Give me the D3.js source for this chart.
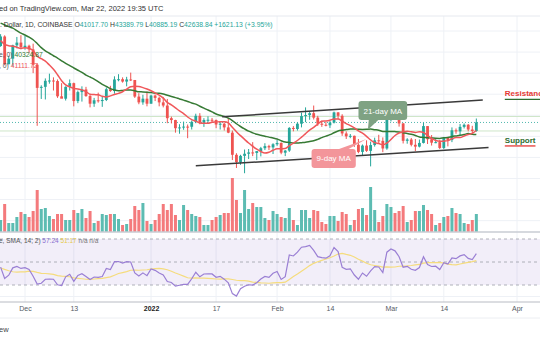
<!DOCTYPE html>
<html><head><meta charset="utf-8">
<script src="https://cdn.jsdelivr.net/npm/d3@7"></script>
<style>body{margin:0;background:#fff;overflow:hidden}svg{display:block;font-family:"Liberation Sans",Arial,sans-serif}</style>
</head><body><svg id="c" width="540" height="340"></svg>
<script>
// ---------- DATA ----------
const firstDay = "2021-11-25";
const opens  = [57150,58960,53700,54750,57280,57800,56950,57200,56500,53600,49200,49400,50550,50600,50500,47600,47150,49400,50100,46700,48400,48900,47650,46200,46850,46700,46900,48950,48600,50800,50850,50400,50800,50700,47550,46450,47150,46200,47750,47300,46450,45850,43450,43100,41550,41700,41850,41820,42750,43900,42600,43100,43150,43100,42250,42400,41700,40700,36500,35100,36300,36700,36950,36850,37200,37750,38150,37900,38500,38750,36900,37300,41600,41400,42400,43850,44050,44400,43550,42400,42200,42100,42600,44550,43900,40550,40000,40100,38400,37050,38250,37250,38350,39250,39150,37700,43200,44400,43950,42450,39150,39400,38400,38050,38750,41950,39450,38800,38900,37800,39700,39300,41150,40950,41800,42200,41300,41017.70];
const highs  = [59400,59180,55300,57400,58870,59200,59050,57400,57600,53900,49700,51000,51900,51200,50800,50100,49500,50800,50200,48700,49500,49400,48000,47300,48300,47500,49300,49600,51400,51800,51200,51300,52100,50700,48200,47900,48500,47900,47950,47550,47500,47100,43750,43150,42300,42800,42250,43000,44300,44400,43450,43800,43500,43200,42700,42600,43500,41100,36800,36500,37500,37600,38900,37200,38000,38700,38400,38700,39300,38850,37400,41750,41950,42650,44500,45500,44800,45850,43900,43000,42750,42900,44700,44600,44200,40950,40450,40150,39500,38450,39250,39000,39750,40300,39800,44200,44950,45400,44100,42550,39650,39700,39500,39400,42600,41950,40250,39500,39300,39900,39900,41700,41500,42350,42450,42350,42000,43389.79];
const lows   = [57000,53500,53650,53300,56700,56500,56450,55800,52000,42000,47100,47000,50000,48700,47300,47300,46800,48700,45700,46300,46600,47500,45500,45600,46400,45600,46700,48450,48100,50450,50200,49500,50500,47300,46100,46000,45700,46200,46700,45700,45500,42500,42450,40700,40500,41250,39650,41300,42500,42300,41800,42600,42600,41550,41300,41100,40600,35500,34000,34600,33000,35700,36250,35500,36200,37400,37400,36650,38200,36600,36250,37050,40950,41100,41700,42700,43150,43200,42000,41800,41900,41600,42450,43300,40100,39500,39650,38000,36800,36400,37050,34300,38050,38600,37000,37450,42850,43350,41850,38650,38600,38100,37200,37900,38650,38550,38250,38700,37600,37600,38100,38900,40500,40250,41500,40950,40500,40885.19];
const closes = [58960,53700,54750,57280,57800,56950,57200,56500,53600,49200,49400,50550,50600,50500,47600,47150,49400,50100,46700,48400,48900,47650,46200,46850,46700,46900,48950,48600,50800,50850,50400,50800,50700,47550,46450,47150,46200,47750,47300,46450,45850,43450,43100,41550,41700,41850,41820,42750,43900,42600,43100,43150,43100,42250,42400,41700,40700,36500,35100,36300,36700,36950,36850,37200,37750,38150,37900,38500,38750,36900,37300,41600,41400,42400,43850,44050,44400,43550,42400,42200,42100,42600,44550,43900,40550,40000,40100,38400,37050,38250,37250,38350,39250,39150,37700,43200,44400,43950,42450,39150,39400,38400,38050,38750,41950,39450,38800,38900,37800,39700,39300,41150,40950,41800,42200,41300,41017.70,42638.84];
// volume (thousands of BTC)
const volumes = [12,28,9,9,15,20,18,15,21,42,23,24,16,13,18,18,12,12,22,19,23,14,21,9,11,18,17,18,18,13,7,8,13,26,22,29,11,8,12,18,28,22,28,17,12,27,22,18,16,15,7,7,12,15,17,19,19,54,32,19,42,23,29,25,25,14,12,21,18,15,14,24,12,7,22,22,14,22,21,10,8,16,16,11,20,18,7,12,23,24,17,45,22,10,16,28,25,19,21,26,10,12,21,21,27,22,18,7,9,15,16,24,19,18,9,8,12,18];
// closes before the first visible candle (Oct 15 – Nov 24, 2021), for indicator warm-up
const priorCloses = [61500,60850,61500,62000,64250,65950,62200,60700,61300,60850,63050,60300,58450,60600,62250,61850,61300,61000,63200,62950,61400,61000,61500,63300,67550,66950,64900,64800,64150,64400,65500,63600,60100,60350,56900,58100,59700,58700,56300,57550,57150];
// values printed in the legends
const legendChange = ["+1621.13", "+3.95%"];
const legendMA = [40324.87, 41111.72];      // 21-day, 9-day
const legendRSI = [57.24, 51.17];            // RSI, RSI-based MA
const tickDates  = ["2021-12-01","2021-12-13","2022-01-01","2022-01-17","2022-02-01","2022-02-14","2022-03-01","2022-03-14","2022-04-01"];
const tickLabels = ["Dec","13","2022","17","Feb","14","Mar","14","Apr"];
const priceTicks = [24000,28000,32000,36000,40000,44000,48000,52000,56000,60000];
const rsiLevels  = [70,50,30];
const levelLines = [43770,41020];
const channelUpper = [["2022-01-18T12:00",43700],["2022-03-23T14:00",46900]];
const channelLower = [["2022-01-12T00:00",34400],["2022-03-25T00:00",37900]];
const srLabels = [{text:"Resistance",date:"2022-03-29T00:00",price:47600,color:"#e53935",line:"#2e6b2e"},
                  {text:"Support",date:"2022-03-29T00:00",price:38750,color:"#2e6b2e",line:"#e53935"}];
const callouts = [{text:"21-day MA",date:"2022-02-27T00:00",price:44900,fill:"#7fa283",tip:["2022-02-23T08:00",41250],side:"bottom"},
                  {text:"9-day MA",date:"2022-02-14T22:00",price:35800,fill:"#f3959a",tip:["2022-02-23T00:00",39500],side:"top"}];

// ---------- SETUP ----------
const svg = d3.select("#c");
const W = 540;
const parse = d3.utcParse("%Y-%m-%d"), parseT = d3.utcParse("%Y-%m-%dT%H:%M");
const start = parse(firstDay);
const days = d3.utcDay.range(start, d3.utcDay.offset(start, closes.length));
const x = d3.scaleUtc().domain([parse("2021-12-01"), parse("2022-04-01")]).range([25, 517]);
const y = d3.scaleLinear().domain([32000, 60000]).range([178.5, 31]);
const yv = d3.scaleLinear().domain([0, 100]).range([232, 132]);
const yr = d3.scaleLinear().domain([30, 70]).range([285, 239]);
const UP = "#26a69a", DN = "#ef5350";

// indicators
const all = priorCloses.concat(closes), P = priorCloses.length;
function sma(arr, n, i){ if(i < n-1) return null; let s=0; for(let k=i-n+1;k<=i;k++){ if(arr[k]==null) return null; s+=arr[k]; } return s/n; }
const ma9 = closes.map((c,i)=>sma(all,9,i+P));
const ma21 = closes.map((c,i)=>sma(all,21,i+P));
const rsiAll = new Array(all.length).fill(null);
let au=0, ad=0;
for(let i=1;i<all.length;i++){
  const ch = all[i]-all[i-1], u=Math.max(ch,0), d=Math.max(-ch,0);
  if(i<=14){ au+=u/14; ad+=d/14; if(i===14) rsiAll[i]=100-100/(1+au/ad); }
  else { au=(au*13+u)/14; ad=(ad*13+d)/14; rsiAll[i]=100-100/(1+au/ad); }
}
const rsi = closes.map((c,i)=>rsiAll[i+P]);
const rsiMa = closes.map((c,i)=>sma(rsiAll,14,i+P));

// ---------- GRID ----------
const g0 = svg.append("g");
g0.selectAll("line.v").data(tickDates.map(parse)).join("line").attr("class","v")
  .attr("x1",d=>x(d)).attr("x2",d=>x(d)).attr("y1",16).attr("y2",302).attr("stroke","#eef1f6");
g0.selectAll("line.h").data(priceTicks).join("line").attr("class","h")
  .attr("x1",0).attr("x2",W).attr("y1",d=>y(d)).attr("y2",d=>y(d)).attr("stroke","#eef1f6");
g0.append("line").attr("x1",0).attr("x2",W).attr("y1",16).attr("y2",16).attr("stroke","#e6e9ef");
g0.append("line").attr("x1",0).attr("x2",W).attr("y1",yr(20)).attr("y2",yr(20)).attr("stroke","#eef1f6");

// level lines
g0.selectAll("line.lv").data(levelLines).join("line").attr("class","lv")
  .attr("x1",0).attr("x2",W).attr("y1",d=>y(d)).attr("y2",d=>y(d)).attr("stroke","#cfe6c9").attr("stroke-width",1);

// clip for main pane
svg.append("clipPath").attr("id","mp").append("rect").attr("x",0).attr("y",16).attr("width",W).attr("height",216);
const main = svg.append("g").attr("clip-path","url(#mp)");

// volume
main.append("g").selectAll("rect").data(days).join("rect")
  .attr("x",(d)=>x(d)-1.5).attr("width",3)
  .attr("y",(d,i)=>yv(volumes[i])).attr("height",(d,i)=>yv(0)-yv(volumes[i]))
  .attr("fill",(d,i)=>closes[i]>=opens[i]?"#5dbcb2":"#f47a7c");

// price line (last close)
main.append("line").attr("x1",0).attr("x2",W).attr("y1",y(closes[closes.length-1])).attr("y2",y(closes[closes.length-1]))
  .attr("stroke",UP).attr("stroke-dasharray","1,2").attr("stroke-width",0.8);

// candles
const cg = main.append("g");
cg.selectAll("line").data(days).join("line")
  .attr("x1",d=>x(d)).attr("x2",d=>x(d))
  .attr("y1",(d,i)=>y(highs[i])).attr("y2",(d,i)=>y(lows[i]))
  .attr("stroke",(d,i)=>closes[i]>=opens[i]?UP:DN).attr("stroke-width",1);
cg.selectAll("rect").data(days).join("rect")
  .attr("x",d=>x(d)-1.4).attr("width",2.8)
  .attr("y",(d,i)=>y(Math.max(opens[i],closes[i])))
  .attr("height",(d,i)=>Math.max(1,Math.abs(y(opens[i])-y(closes[i]))))
  .attr("fill",(d,i)=>closes[i]>=opens[i]?UP:DN);

// moving averages
const lineMA = arr => d3.line().defined((d,i)=>arr[i]!=null).x(d=>x(d)).y((d,i)=>y(arr[i])).curve(d3.curveMonotoneX);
main.append("path").datum(days).attr("d",lineMA(ma21)).attr("fill","none").attr("stroke","#367a34").attr("stroke-width",1.5);
main.append("path").datum(days).attr("d",lineMA(ma9)).attr("fill","none").attr("stroke","#f0575a").attr("stroke-width",1.5);

// channel
[channelUpper, channelLower].forEach(c=>{
  main.append("line").attr("x1",x(parseT(c[0][0]))).attr("y1",y(c[0][1]))
    .attr("x2",x(parseT(c[1][0]))).attr("y2",y(c[1][1])).attr("stroke","#3a3a3a").attr("stroke-width",1.5);
});

// callouts
callouts.forEach(c=>{
  const cx = x(parseT(c.date)), cy = y(c.price);
  const t = main.append("text").attr("x",cx).attr("y",cy+3).attr("text-anchor","middle")
    .attr("font-size",8).attr("fill","#ffffff").text(c.text);
  const bw = t.node().getComputedTextLength()+10, bh = 19;
  const tx = x(parseT(c.tip[0])), ty = y(c.tip[1]);
  const g = main.insert("g", () => t.node());
  g.append("rect").attr("x",cx-bw/2).attr("y",cy-bh/2).attr("width",bw).attr("height",bh).attr("rx",3).attr("fill",c.fill);
  const by = c.side==="bottom" ? cy+bh/2-0.5 : cy-bh/2+0.5;
  const bx = c.side==="bottom" ? cx-9 : cx+9;
  g.append("path").attr("d",`M${bx-5},${by}L${tx},${ty}L${bx+5},${by}Z`).attr("fill",c.fill);
});

// support / resistance labels
srLabels.forEach(s=>{
  const sx = x(parseT(s.date)), sy = y(s.price);
  const t = svg.append("text").attr("x",sx).attr("y",sy).attr("font-size",8).attr("font-weight","bold").attr("fill",s.color).text(s.text);
  const w = t.node().getComputedTextLength();
  svg.append("line").attr("x1",sx).attr("x2",sx+w).attr("y1",sy+3).attr("y2",sy+3).attr("stroke",s.line).attr("stroke-width",1.3);
});

// ---------- RSI PANE ----------
svg.append("rect").attr("x",0).attr("width",W).attr("y",yr(70)).attr("height",yr(30)-yr(70)).attr("fill","#7e57c2").attr("fill-opacity",0.1);
svg.selectAll("line.rl").data(rsiLevels).join("line").attr("class","rl")
  .attr("x1",0).attr("x2",W).attr("y1",d=>yr(d)).attr("y2",d=>yr(d)).attr("stroke","#9da0a8").attr("stroke-dasharray","3,3").attr("stroke-width",0.8);
svg.append("line").attr("x1",0).attr("x2",W).attr("y1",232).attr("y2",232).attr("stroke","#c9ccd3").attr("stroke-width",1.5);
svg.append("clipPath").attr("id","rp").append("rect").attr("x",0).attr("y",233).attr("width",W).attr("height",69);
const rp = svg.append("g").attr("clip-path","url(#rp)");
rp.append("path").datum(days).attr("d",d3.line().defined((d,i)=>rsiMa[i]!=null).x(d=>x(d)).y((d,i)=>yr(rsiMa[i])))
  .attr("fill","none").attr("stroke","#f5dc7d").attr("stroke-width",1.2);
rp.append("path").datum(days).attr("d",d3.line().defined((d,i)=>rsi[i]!=null).x(d=>x(d)).y((d,i)=>yr(rsi[i])))
  .attr("fill","none").attr("stroke","#9a7fd4").attr("stroke-width",1.2);

// ---------- X AXIS ----------
svg.append("line").attr("x1",0).attr("x2",W).attr("y1",302).attr("y2",302).attr("stroke","#b8bbc3").attr("stroke-width",1);
const ax = svg.append("g").attr("transform","translate(0,306)")
  .call(d3.axisBottom(x).tickValues(tickDates.map(parse)).tickFormat((d,i)=>tickLabels[i]).tickSize(0).tickPadding(0));
ax.select(".domain").remove();
ax.selectAll("text").attr("font-size",7).attr("font-family","Liberation Sans, Arial, sans-serif")
  .attr("font-weight",(d,i)=>tickLabels[i]==="2022"?"bold":"normal").attr("fill",(d,i)=>tickLabels[i]==="2022"?"#222":"#555a64");
svg.append("line").attr("x1",0).attr("x2",W).attr("y1",318).attr("y2",318).attr("stroke","#eceef2");
svg.append("text").attr("x",-1).attr("y",332).attr("font-size",7.5).attr("fill","#444").text("ew");

// ---------- LEGENDS ----------
svg.append("text").attr("x",-1).attr("y",10.5).attr("font-size",7.5).attr("fill","#333").text("ed on TradingView.com, Mar 22, 2022 19:35 UTC");
const last = closes.length-1;
const lg = svg.append("text").attr("x",0).attr("y",27).attr("font-size",6.8).attr("fill","#333");
lg.append("tspan").text(". Dollar, 1D, COINBASE  ");
[["O",opens[last]],["H",highs[last]],["L",lows[last]],["C",closes[last]]].forEach(([k,v])=>{
  lg.append("tspan").attr("fill","#333").text(k);
  lg.append("tspan").attr("fill",UP).text(d3.format(".2f")(v)+"  ");
});
lg.append("tspan").attr("fill",UP).text(legendChange[0]+" ("+legendChange[1]+")");
const l2 = svg.append("text").attr("x",-1).attr("y",57).attr("font-size",6.8).attr("fill","#555");
l2.append("tspan").text("e, 0)  ");
l2.append("tspan").attr("fill","#367a34").text(d3.format(".2f")(legendMA[0]));
const l3 = svg.append("text").attr("x",-1).attr("y",68).attr("font-size",6.8).attr("fill","#555");
l3.append("tspan").text(", 0)  ");
l3.append("tspan").attr("fill","#f0575a").text(d3.format(".2f")(legendMA[1]));
const l4 = svg.append("text").attr("x",-1).attr("y",243).attr("font-size",6.5).attr("fill","#555");
l4.append("tspan").text("e, SMA, 14; 2)  ");
l4.append("tspan").attr("fill","#8a6fd0").text(d3.format(".2f")(legendRSI[0])+"  ");
l4.append("tspan").attr("fill","#e6c94a").text(d3.format(".2f")(legendRSI[1])+"  ");
l4.append("tspan").attr("fill","#777").text("n/a  n/a");
</script></body></html>
